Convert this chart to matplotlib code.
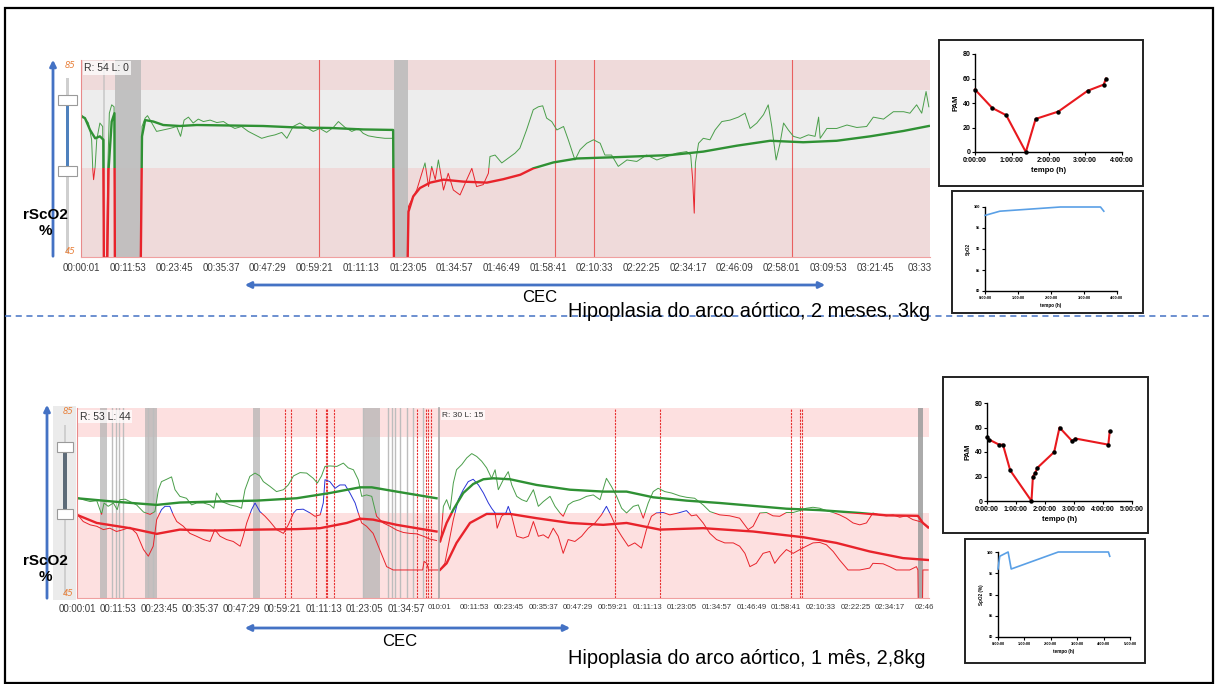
import numpy as np
import matplotlib
matplotlib.use('Agg')
import matplotlib.pyplot as plt
from matplotlib.patches import Rectangle, FancyArrowPatch
from matplotlib.lines import Line2D

W, H = 1219, 684
nan = np.nan

# thresholds of the cerebral oximetry display (rScO2 %)
THR_LOW, THR_HIGH = 63, 79

# ---- case 1: aortic arch hypoplasia, 2 months (time in minutes) ----
TOP_TICKS = ["00:00:01", "00:11:53", "00:23:45", "00:35:37", "00:47:29", "00:59:21",
             "01:11:13", "01:23:05", "01:34:57", "01:46:49", "01:58:41", "02:10:33",
             "02:22:25", "02:34:17", "02:46:09", "02:58:01", "03:09:53", "03:21:45", "03:33"]
TOP_END = 215.7

TOP_RAW_T = [0.2, 1.0, 1.9, 2.7, 3.0, 3.2, 3.6, 4.0, 4.8, 5.5, 5.8, 6.5, 6.8, 7.2, 7.8, 8.4, 8.6, nan,
             15.2, 15.5, 16.3, 16.9, 18.0, 19.2, 20.9, 22.6, 24.3, 25.3, 26.2, 27.3, 28.5, 29.8, 31.1,
             32.8, 34.5, 36.2, 37.9, 39.1, 40.8, 42.5, 44.2, 45.9, 47.6, 49.3, 51.0, 52.3, 53.9, 55.6,
             57.3, 59.0, 60.7, 62.4, 64.1, 65.4, 67.1, 68.8, 70.5, 71.7, 73.0, 75.1, 77.2, 79.3, 79.5, nan,
             83.0, 83.2, 84.0, 85.3, 86.6, 87.4, 88.3, 89.1, 90.0, 90.8, 92.1, 93.3, 94.6, 96.3, 98.0,
             99.3, 100.5, 102.2, 103.5, 103.9, 105.2, 106.9, 108.6, 110.3, 111.5, 113.2, 114.9, 116.2,
             117.3, 118.3, 119.6, 120.9, 122.6, 123.8, 125.5, 126.8, 128.5, 130.2, 131.9, 133.1, 134.8,
             136.5, 138.7, 141.2, 143.7, 146.3, 148.8, 151.4, 153.9, 154.9, 155.4, 155.8, 156.1, 156.9,
             158.1, 159.8, 161.1, 162.8, 164.9, 167.0, 168.7, 170.0, 171.7, 173.4, 174.6, 175.5, 176.6,
             177.6, 178.5, 179.7, 181.0, 182.7, 184.8, 186.5, 187.4, 187.8, 189.5, 192.0, 194.6, 197.1,
             199.6, 201.3, 203.9, 206.4, 209.0, 210.6, 212.3, 213.6, 214.7, 215.4]
TOP_RAW_V = [73.8, 73.2, 72.2, 68.8, 62.7, 60.7, 63.4, 68.8, 72.2, 71.5, 45, 45, 62.7, 74.2, 75.9, 75.5, 45, nan,
             45, 71.5, 73.2, 73.7, 72.2, 70.5, 70.8, 71.1, 71.5, 69.5, 72.8, 73.4, 72.2, 73.0, 72.5,
             72.8, 72.3, 72.5, 71.6, 71.1, 71.5, 70.5, 69.8, 69.1, 69.5, 69.8, 70.3, 69.1, 71.5, 72.2,
             71.3, 70.5, 71.1, 70.3, 71.3, 72.5, 71.3, 70.5, 71.1, 70.1, 69.6, 69.3, 69.1, 69.1, 45, nan,
             45, 55.3, 56.6, 58.6, 62.0, 64.1, 59.3, 63.4, 60.7, 64.7, 58.6, 62.0, 58.6, 57.6, 60.7,
             63.0, 59.3, 59.7, 62.0, 65.4, 65.7, 64.1, 65.1, 66.1, 67.1, 70.8, 74.9, 75.5,
             75.7, 73.2, 72.5, 70.8, 71.5, 68.8, 64.7, 66.8, 68.1, 68.8, 68.1, 65.7, 65.7,
             63.4, 64.7, 64.4, 65.7, 64.7, 65.4, 66.1, 66.4, 65.7, 60.7, 53.9, 64.1, 68.1,
             69.1, 68.8, 70.8, 72.5, 72.8, 73.4, 74.2, 71.1, 72.2, 73.9, 75.9, 71.5, 64.7,
             68.1, 72.2, 70.8, 69.5, 69.1, 69.8, 69.5, 73.4, 69.1, 71.1, 71.1, 71.8, 71.3,
             71.5, 73.4, 73.0, 74.5, 74.5, 74.2, 75.9, 74.2, 78.6, 75.5]
TOP_TREND_T = [0.2, 1.0, 2.3, 3.6, 4.8, 5.7, 5.8, nan, 6.7, 7.0, 7.8, 8.5, 8.6, nan,
               15.2, 15.5, 16.3, 18.4, 20.9, 25.1, 29.4, 37.9, 46.3, 54.8, 63.3, 71.7, 79.3, 79.5, nan,
               83.0, 83.2, 84.4, 86.1, 88.7, 92.1, 97.2, 103.1, 107.3, 111.6, 114.9, 120.0, 126.0,
               137.0, 149.7, 158.1, 166.6, 175.1, 183.5, 192.0, 200.5, 209.0, 215.4]
TOP_TREND_V = [73.5, 73.2, 70.8, 69.1, 69.5, 68.8, 45, nan, 45, 62.7, 72.5, 74.2, 45, nan,
               45, 69.5, 72.8, 72.5, 71.8, 71.6, 71.8, 71.7, 71.6, 71.3, 71.2, 70.9, 70.8, 45, nan,
               45, 54.2, 57.3, 59.0, 60.1, 60.7, 60.3, 60.1, 60.8, 61.7, 63.0, 64.2, 65.0,
               65.3, 65.7, 66.4, 67.6, 68.6, 68.3, 68.6, 69.5, 70.6, 71.6]
TOP_GREY = [(5.6, 6.0), (8.6, 15.2), (79.6, 83.0)]
TOP_MARKS = [60.5, 120.4, 130.4, 180.7]

# ---- case 2: aortic arch hypoplasia, 1 month - two recordings ----
REC1_TICKS = ["00:00:01", "00:11:53", "00:23:45", "00:35:37", "00:47:29", "00:59:21",
              "01:11:13", "01:23:05", "01:34:57"]
REC1_END = 104.6
REC2_TICKS = ["00:00:01", "00:11:53", "00:23:45", "00:35:37", "00:47:29", "00:59:21",
              "01:11:13", "01:23:05", "01:34:57", "01:46:49", "01:58:41", "02:10:33",
              "02:22:25", "02:34:17", "02:46"]
REC2_TICK_TEXT = ["010:01"] + REC2_TICKS[1:]
REC2_END = 167.6

B1_A_T = [0, 1.8, 3.8, 5.7, 7.1, 7.8, 9.0, 10.5, 11.6, 12.4, 13.9, 15.3, 17.2, 19.2, 21.1, 22.5,
          23.5, 24.4, 25.9, 27.3, 28.3, 29.7, 31.6, 33.1, 34.5, 36.5, 38.4, 39.5, 40.3, 41.8, 44.2,
          46.1, 47.5, 48.5, 49.9, 51.4, 52.8, 53.8, 55.7, 57.6, 59.6, 61.0, 62.5, 64.4, 66.3, 68.2,
          69.4, 70.6, 71.6, 73.0, 75.0, 76.9, 78.3, 79.8, 81.2, 82.2, 83.6, 85.1, 86.5, 88.4, 90.4,
          92.3, 94.2, 96.1, 98.1, 100.0, 101.9, 103.8]
B1_A_V = [66.2, 65.7, 65.3, 65.5, 62.6, 65.0, 64.3, 65.0, 63.6, 65.7, 65.8, 65.3, 64.6, 63.1, 62.6, 63.2,
          67.8, 69.5, 70.0, 70.5, 67.8, 66.4, 66.0, 64.6, 65.0, 65.0, 64.6, 63.9, 67.1, 65.3, 64.6,
          64.3, 63.9, 67.8, 70.6, 71.3, 70.7, 69.5, 68.5, 67.4, 67.8, 68.8, 70.7, 71.4, 71.3, 70.2,
          69.2, 70.7, 72.7, 72.8, 72.7, 73.4, 72.4, 72.0, 69.9, 66.4, 66.7, 66.4, 62.2, 60.8, 60.1,
          59.3, 58.8, 58.6, 58.5, 58.0, 57.4, 57.1]
B1_B_T = [0, 1.8, 3.8, 5.7, 7.6, 9.5, 11.4, 13.4, 15.3, 17.2, 19.2, 20.6, 22.0, 23.0, 24.4, 25.4,
          26.8, 27.8, 28.8, 30.7, 32.6, 34.5, 36.5, 38.4, 39.8, 41.3, 43.2, 45.1, 47.1, 48.0, 49.0,
          50.4, 51.4, 52.8, 54.3, 55.7, 57.6, 59.6, 61.0, 62.5, 63.4, 65.3, 67.3, 68.7, 70.2, 71.1,
          71.6, 73.0, 74.5, 75.9, 77.4, 78.8, 80.3, 81.2, 82.2, 83.6, 85.5, 87.0, 88.4, 89.4, 91.3,
          94.2, 97.1, 99.8, 100.2, 101.0, 101.5, 104.3]
B1_B_V = [62.7, 61.1, 60.4, 60.1, 59.4, 59.7, 59.0, 59.4, 59.9, 58.6, 55.2, 53.8, 55.9, 61.5, 63.6, 64.3,
          64.3, 62.5, 61.1, 60.1, 58.6, 58.0, 57.3, 56.9, 59.4, 58.0, 57.3, 56.9, 55.9, 58.0, 60.8,
          63.6, 65.0, 63.2, 62.2, 61.1, 59.4, 58.6, 60.4, 62.9, 63.6, 63.7, 62.9, 62.2, 62.5, 65.0,
          69.9, 69.5, 68.1, 68.8, 68.8, 67.1, 65.0, 62.9, 60.8, 60.1, 58.6, 55.9, 53.4, 51.6, 50.9,
          50.9, 50.9, 50.9, 52.7, 52.3, 50.9, 50.9]
B1_A_TREND_T = [0, 10.5, 23.0, 29.7, 39.4, 51.9, 63.4, 73.0, 81.7, 85.1, 92.3, 103.8]
B1_A_TREND_V = [66.0, 65.3, 64.6, 65.1, 65.3, 65.5, 66.0, 67.1, 68.3, 68.3, 67.4, 66.0]
B1_B_TREND_T = [0, 5.7, 15.3, 23.0, 29.7, 39.4, 51.9, 63.4, 70.2, 77.9, 81.7, 85.5, 92.3, 103.8]
B1_B_TREND_V = [62.5, 60.8, 59.7, 58.5, 59.4, 59.2, 59.4, 59.5, 59.7, 60.8, 61.7, 61.5, 60.4, 59.0]
B1_GREY = [(6.6, 8.6), (19.6, 23.0), (50.7, 52.8), (82.7, 87.5)]
B1_GREY_LINES = [10.2, 11.3, 12.2, 13.2, 20.6, 21.8, 82.7, 89.9, 90.8, 91.8, 93.2, 95.2, 97.1, 100.0]
B1_MARKS = [60.0, 61.7, 69.0, 71.8, 72.3, 74.3, 98.3, 100.9, 101.4, 102.2]

B2_A_T = [0.5, 1.4, 2.5, 3.7, 4.8, 5.9, 7.7, 9.4, 11.1, 12.8, 14.5, 16.2, 17.9, 19.1, 20.2, 21.9,
          23.6, 24.8, 26.5, 28.2, 29.9, 32.2, 33.9, 35.6, 37.9, 39.6, 41.3, 42.4, 44.1, 45.8, 48.1,
          50.4, 52.7, 55.0, 57.2, 58.9, 60.7, 62.4, 64.1, 66.4, 68.1, 69.8, 71.5, 73.2, 74.9, 77.2,
          79.5, 82.3, 84.6, 87.4, 90.3, 92.6, 96.0, 99.4, 102.8, 105.7, 107.4, 109.7, 112.0, 114.2,
          116.5, 118.8, 121.1, 123.4, 125.6, 127.9, 130.2, 132.5, 134.8, 137.0, 139.3, 141.6, 143.9,
          146.2, 148.4, 150.7, 153.0, 155.3, 157.6, 159.8, 162.1, 164.4, 165.5, 167.3]
B2_A_V = [56.9, 64.3, 65.7, 63.6, 69.2, 72.0, 73.1, 74.5, 75.4, 74.8, 73.8, 72.4, 70.2, 72.0, 67.8, 69.9,
          71.6, 68.8, 66.4, 65.7, 65.3, 67.8, 64.3, 65.3, 66.4, 64.3, 62.9, 62.2, 64.6, 65.3, 65.7,
          66.4, 66.7, 65.7, 70.2, 68.5, 66.4, 63.9, 62.9, 64.3, 64.6, 61.8, 65.0, 67.4, 68.1, 67.4,
          67.1, 66.5, 66.2, 66.0, 64.6, 63.2, 62.5, 62.3, 61.8, 59.4, 60.1, 62.9, 63.0, 62.3,
          62.2, 63.0, 63.0, 63.4, 63.9, 64.1, 63.9, 63.4, 63.0, 62.5, 61.8, 60.8, 60.4,
          60.8, 62.9, 62.5, 62.3, 62.5, 62.0, 62.3, 61.5, 61.1, 60.8, 59.7]
B2_B_T = [0.2, 1.9, 3.7, 4.8, 6.5, 8.2, 9.9, 11.6, 13.4, 15.1, 16.8, 17.9, 19.1, 19.8, 21.3, 22.8,
          23.6, 24.8, 26.5, 28.7, 30.5, 32.2, 33.9, 35.6, 37.3, 39.0, 40.7, 42.4, 44.1, 46.4, 48.7,
          51.0, 53.3, 55.5, 57.2, 58.9, 60.7, 62.4, 64.7, 66.9, 69.2, 70.9, 72.6, 74.3, 76.6, 78.9,
          81.8, 84.6, 86.3, 88.0, 90.3, 92.6, 94.9, 97.7, 100.6, 102.8, 104.6, 106.3, 108.5, 110.8,
          113.1, 114.8, 116.5, 118.8, 121.1, 123.4, 125.6, 127.9, 130.2, 132.5, 134.8, 137.0, 139.9,
          143.9, 147.3, 148.4, 151.9, 154.1, 156.4, 161.0, 163.3, 163.8, 163.9, nan, 165.4, 165.5, 167.3]
B2_B_V = [50.9, 52.3, 58.0, 61.5, 65.7, 67.8, 69.5, 70.0, 68.8, 67.1, 65.0, 63.9, 62.9, 59.7, 62.2, 62.9,
          64.3, 62.2, 58.0, 57.6, 58.0, 61.1, 58.0, 58.3, 57.6, 59.7, 58.0, 54.4, 57.3, 56.9, 58.0,
          59.7, 60.8, 62.5, 64.3, 62.2, 59.7, 58.0, 55.9, 56.6, 55.5, 59.4, 62.2, 62.9, 63.0, 62.5,
          62.9, 63.4, 62.3, 62.5, 60.8, 58.6, 57.3, 56.6, 56.6, 55.9, 54.4, 51.6, 52.3, 54.4,
          54.8, 52.3, 53.7, 55.2, 54.4, 55.2, 55.9, 56.6, 56.7, 56.2, 54.8, 53.0, 50.9,
          50.9, 51.3, 52.3, 52.2, 51.6, 50.9, 50.9, 51.6, 50.9, 45, nan, 45, 50.9, 50.9]
B2_A_TREND_T = [0.2, 2.5, 4.8, 8.2, 11.6, 15.1, 18.5, 24.2, 33.3, 44.7, 56.1, 64.1, 73.2, 84.6,
                96.0, 107.4, 118.8, 130.2, 143.9, 153.0, 163.8, 165.5, 167.3]
B2_A_TREND_V = [56.9, 60.8, 63.6, 67.1, 69.0, 70.0, 70.2, 70.0, 68.8, 67.8, 67.4, 67.4, 66.2, 65.5,
                65.0, 64.4, 63.8, 63.5, 62.9, 62.4, 62.3, 60.8, 59.9]
B2_B_TREND_T = [0.2, 2.5, 5.9, 10.5, 16.2, 24.2, 33.3, 44.7, 56.1, 64.1, 75.5, 90.3, 107.4, 124.5,
                135.9, 147.3, 158.7, 167.3]
B2_B_TREND_V = [50.9, 52.3, 56.6, 60.8, 62.7, 62.7, 61.8, 60.8, 60.4, 60.8, 59.4, 59.7, 59.0, 57.8,
                56.6, 54.8, 53.4, 53.0]
B2_GREY = [(163.8, 165.5)]
B2_MARKS = [60.3, 75.7, 120.3, 123.6, 124.0]

# ---- PAM and SpO2 insets (time in minutes) ----
PAM1_T = [0, 28, 51, 83, 99, 136, 184, 210, 214]
PAM1_V = [51, 36, 30, 0, 27, 33, 50, 55, 60]
SPO2_1_T = [0, 27, 137, 210, 216]
SPO2_1_V = [98, 99, 100, 100, 99]
PAM2_T = [0, 5, 25, 33, 48, 92, 95, 100, 104, 139, 150, 176, 183, 251, 254]
PAM2_V = [52, 50, 46, 46, 25, 0, 20, 23, 27, 40, 60, 49, 51, 46, 57]
SPO2_2_T = [0, 4, 23, 30, 137, 251, 254]
SPO2_2_V = [96, 99, 100, 96, 100, 100, 99]

GREEN = '#2f9134'
GREEN_THIN = '#4a9e4a'
RED = '#e8232b'
BLUE = '#2a35d6'
ARROW = '#4472c4'
SANS = 'Liberation Sans'


def box(x0, y0, x1, y1):
    return [x0 / W, 1 - y1 / H, (x1 - x0) / W, (y1 - y0) / H]


def fx(x):
    return x / W


def fy(y):
    return 1 - y / H


def to_min(label):
    parts = [int(p) for p in label.split(':')]
    if len(parts) == 3:
        return parts[0] * 60 + parts[1] + parts[2] / 60
    return parts[0] * 60 + parts[1]


def fig_rect(fig, x0, y0, x1, y1, **kw):
    fig.add_artist(Rectangle((fx(x0), fy(y1)), (x1 - x0) / W, (y1 - y0) / H,
                             transform=fig.transFigure, **kw))


def split_line(ax, t, v, lw, hi, lo, end):
    # same series drawn twice, clipped above / below the lower alarm limit
    for color, y0, y1 in ((hi, THR_LOW, 85), (lo, 45, THR_LOW)):
        ln, = ax.plot(t, v, color=color, lw=lw, solid_joinstyle='round')
        ln.set_clip_path(Rectangle((0, y0), end, y1 - y0, transform=ax.transData))


def oximetry_axes(fig, rect, end, pink, mid, ticks, tick_text, tick_size):
    ax = fig.add_axes(rect)
    ax.set_xlim(0, end)
    ax.set_ylim(45, 85)
    ax.axhspan(THR_HIGH, 85, color=pink, lw=0)
    ax.axhspan(THR_LOW, THR_HIGH, color=mid, lw=0)
    ax.axhspan(45, THR_LOW, color=pink, lw=0)
    ax.set_yticks([])
    ax.set_xticks([to_min(s) for s in ticks])
    ax.set_xticklabels(tick_text, fontsize=tick_size, color='#3c3c3c', family=SANS)
    ax.tick_params(axis='x', length=0, pad=4)
    for s in ('top', 'right'):
        ax.spines[s].set_visible(False)
    ax.spines['left'].set_color('#e88a8a')
    ax.spines['bottom'].set_color('#f0a0a0')
    ax.spines['left'].set_linewidth(0.8)
    ax.spines['bottom'].set_linewidth(0.8)
    return ax


def prism_axes(fig, rect, t, v, color, xmax, ylim, yticks, ylabel, fs, lw, markers):
    ax = fig.add_axes(rect)
    ax.plot(t, v, color=color, lw=lw, clip_on=False, zorder=3)
    if markers:
        ax.plot(t, v, 'o', color='black', ms=2.2, clip_on=False, zorder=4)
    ax.set_xlim(0, xmax)
    ax.set_ylim(*ylim)
    xt = list(range(0, xmax + 1, 60))
    ax.set_xticks(xt)
    ax.set_xticklabels(['%d:00:00' % (m // 60) for m in xt])
    ax.set_yticks(yticks)
    for s in ('top', 'right'):
        ax.spines[s].set_visible(False)
    for s in ('left', 'bottom'):
        ax.spines[s].set_linewidth(1.0)
    ax.tick_params(length=2, width=0.8, pad=1.5, labelsize=fs)
    for lab in ax.get_xticklabels() + ax.get_yticklabels():
        lab.set_fontweight('bold')
        lab.set_family(SANS)
    ax.set_xlabel('tempo (h)', fontsize=fs + 0.5, fontweight='bold', family=SANS, labelpad=2)
    ax.set_ylabel(ylabel, fontsize=fs + 0.5, fontweight='bold', family=SANS, labelpad=2)
    ax.patch.set_alpha(0)
    return ax


def slider(fig, x0, x1, track, y_top, y_bot, bar_color, handles, panel=None):
    if panel:
        fig_rect(fig, *panel, color='#ebebeb', lw=0)
    xc = (x0 + x1) / 2
    fig_rect(fig, xc - 1.2, track[0], xc + 1.2, track[1], color='#cfcfcf', lw=0)
    fig_rect(fig, xc - 1.8, y_top, xc + 1.8, y_bot, color=bar_color, lw=0)
    for hy in handles:
        fig_rect(fig, x0, hy - 5, x1, hy + 5, fc='white', ec='#9a9a9a', lw=0.8)


def arrow(fig, p0, p1, style):
    fig.add_artist(FancyArrowPatch((fx(p0[0]), fy(p0[1])), (fx(p1[0]), fy(p1[1])),
                                   transform=fig.transFigure, arrowstyle=style,
                                   mutation_scale=9, color=ARROW, lw=2))


def main():
    fig = plt.figure(figsize=(W / 100, H / 100), dpi=100)
    fig.patch.set_facecolor('white')

    fig_rect(fig, 5, 8, 1213, 683, fill=False, ec='black', lw=1.6)
    fig.add_artist(Line2D([fx(5), fx(1213)], [fy(316), fy(316)], transform=fig.transFigure,
                          color=ARROW, ls=(0, (4, 3)), lw=1.1))

    # ---------------- upper case ----------------
    ax = oximetry_axes(fig, box(81, 60, 930, 257), TOP_END, '#efdada', '#ededed',
                       TOP_TICKS, TOP_TICKS, 7)
    for a, b in TOP_GREY:
        ax.axvspan(a, b, color='#bdbdbd', lw=0, alpha=0.9 if b - a > 1 else 0.6)
    for m in TOP_MARKS:
        ax.axvline(m, color='#e84a4a', lw=0.8, alpha=0.85)
    split_line(ax, TOP_RAW_T, TOP_RAW_V, 0.7, GREEN_THIN, RED, TOP_END)
    split_line(ax, TOP_TREND_T, TOP_TREND_V, 1.7, GREEN, RED, TOP_END)
    ax.text(0.004, 0.985, 'R: 54 L: 0', transform=ax.transAxes, va='top', ha='left',
            fontsize=7.5, color='#333333', family=SANS,
            bbox=dict(fc='white', ec='none', alpha=0.75, pad=1.2))

    fig.text(fx(70), fy(65), '85', fontsize=6, style='italic', color='#e8803a', ha='center', va='center')
    fig.text(fx(70), fy(252), '45', fontsize=6, style='italic', color='#e8803a', ha='center', va='center')
    slider(fig, 58, 77, (78, 253), 100, 171, '#4f81bd', (100, 171))
    arrow(fig, (53, 259), (53, 57), '-|>')
    fig.text(fx(45), fy(223), 'rScO2\n%', fontsize=11, fontweight='bold', ha='center', va='center',
             family=SANS, linespacing=1.2)

    arrow(fig, (242, 285), (828, 285), '<|-|>')
    fig.text(fx(540), fy(298), 'CEC', fontsize=12, ha='center', va='center', family=SANS)
    fig.text(fx(568), fy(311), 'Hipoplasia do arco aórtico, 2 meses, 3kg', fontsize=14.4, ha='left',
             va='center', family=SANS)

    fig_rect(fig, 939, 40, 1143, 186, fill=False, ec='#222222', lw=1.4)
    prism_axes(fig, box(975, 54, 1122, 152), PAM1_T, PAM1_V, '#e8191e', 240, (0, 80),
               [0, 20, 40, 60, 80], 'PAM', 5, 1.5, True)
    fig_rect(fig, 952, 191, 1143, 313, fill=False, ec='#222222', lw=1.4)
    prism_axes(fig, box(985, 207, 1117, 291), SPO2_1_T, SPO2_1_V, '#5aa0e6', 240, (80, 100),
               [80, 85, 90, 95, 100], 'SpO2', 2.8, 1.2, False)

    # ---------------- lower case ----------------
    ax1 = oximetry_axes(fig, box(77, 408, 439.3, 598), REC1_END, '#fde0e0', 'white',
                        REC1_TICKS, REC1_TICKS, 7)
    ax2 = oximetry_axes(fig, box(439.3, 408, 929, 598), REC2_END, '#fde0e0', 'white',
                        REC2_TICKS, REC2_TICK_TEXT, 5.6)
    ax2.spines['left'].set_color('#a8a8a8')
    ax2.spines['left'].set_linewidth(1.2)

    for a, b in B1_GREY:
        ax1.axvspan(a, b, color='#b5b5b5', lw=0, alpha=0.75)
    for g in B1_GREY_LINES:
        ax1.axvline(g, color='#bdbdbd', lw=1.0)
    for m in B1_MARKS:
        ax1.axvline(m, color='#e83030', lw=0.8, ls=(0, (2, 1)))
    for a, b in B2_GREY:
        ax2.axvspan(a, b, color='#9c9c9c', lw=0, alpha=0.85)
    for m in B2_MARKS:
        ax2.axvline(m, color='#e83030', lw=0.8, ls=(0, (2, 1)))

    split_line(ax1, B1_B_T, B1_B_V, 0.7, BLUE, RED, REC1_END)
    split_line(ax1, B1_A_T, B1_A_V, 0.7, GREEN_THIN, RED, REC1_END)
    split_line(ax1, B1_B_TREND_T, B1_B_TREND_V, 1.7, BLUE, RED, REC1_END)
    split_line(ax1, B1_A_TREND_T, B1_A_TREND_V, 1.7, GREEN, RED, REC1_END)
    split_line(ax2, B2_B_T, B2_B_V, 0.7, BLUE, RED, REC2_END)
    split_line(ax2, B2_A_T, B2_A_V, 0.7, GREEN_THIN, RED, REC2_END)
    split_line(ax2, B2_B_TREND_T, B2_B_TREND_V, 1.7, BLUE, RED, REC2_END)
    split_line(ax2, B2_A_TREND_T, B2_A_TREND_V, 1.7, GREEN, RED, REC2_END)

    ax1.text(0.008, 0.98, 'R: 53 L: 44', transform=ax1.transAxes, va='top', ha='left',
             fontsize=7.5, color='#333333', family=SANS,
             bbox=dict(fc='white', ec='none', alpha=0.75, pad=1.2))
    ax2.text(0.006, 0.98, 'R: 30 L: 15', transform=ax2.transAxes, va='top', ha='left',
             fontsize=6, color='#333333', family=SANS,
             bbox=dict(fc='white', ec='none', alpha=0.75, pad=1.0))

    slider(fig, 57, 73, (425, 595), 447, 514, '#5d6b78', (447, 514), panel=(53, 406, 76, 600))
    fig.text(fx(68), fy(411), '85', fontsize=6, style='italic', color='#e8803a', ha='center', va='center')
    fig.text(fx(68), fy(594), '45', fontsize=6, style='italic', color='#e8803a', ha='center', va='center')
    arrow(fig, (47, 601), (47, 402), '-|>')
    fig.text(fx(45), fy(569), 'rScO2\n%', fontsize=11, fontweight='bold', ha='center', va='center',
             family=SANS, linespacing=1.2)

    arrow(fig, (242, 628), (573, 628), '<|-|>')
    fig.text(fx(400), fy(642), 'CEC', fontsize=12, ha='center', va='center', family=SANS)
    fig.text(fx(568), fy(658), 'Hipoplasia do arco aórtico, 1 mês, 2,8kg', fontsize=14.4, ha='left',
             va='center', family=SANS)

    fig_rect(fig, 943, 377, 1148, 533, fill=False, ec='#222222', lw=1.4)
    prism_axes(fig, box(987, 403, 1132, 501), PAM2_T, PAM2_V, '#e8191e', 300, (0, 80),
               [0, 20, 40, 60, 80], 'PAM', 5, 1.5, True)
    fig_rect(fig, 965, 539, 1145, 663, fill=False, ec='#222222', lw=1.4)
    prism_axes(fig, box(998, 552, 1130, 637), SPO2_2_T, SPO2_2_V, '#5aa0e6', 300, (80, 100),
               [80, 85, 90, 95, 100], 'SpO2 (%)', 2.8, 1.2, False)

    fig.savefig('out.png', dpi=100)


if __name__ == '__main__':
    main()
